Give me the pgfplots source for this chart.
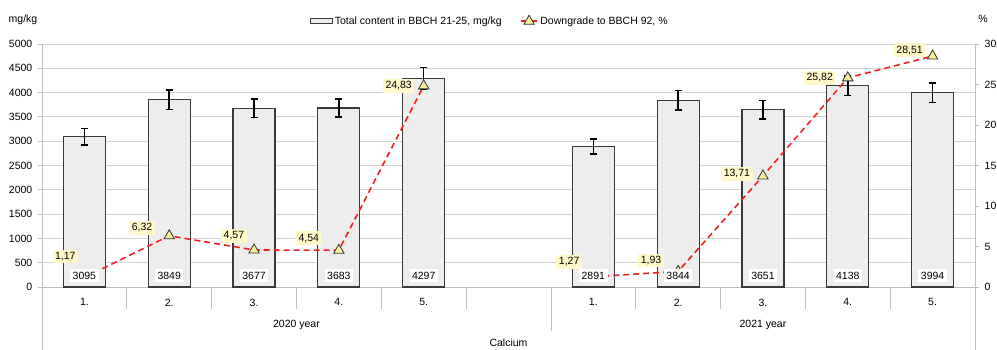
\documentclass[border=0pt]{standalone}
\usepackage{pgfplots}
\pgfplotsset{compat=1.18}
\usepackage{pgfplotstable}
\usepackage{fontspec}
\setmainfont{Liberation Sans}
\definecolor{barfill}{HTML}{EDEDED}
\definecolor{barline}{HTML}{3A3A3A}
\definecolor{gridc}{HTML}{D4D4D4}
\definecolor{axc}{HTML}{BFBFBF}
\definecolor{lbl}{HTML}{FFF8C8}
\definecolor{mk}{HTML}{F7EE9A}
\definecolor{lred}{HTML}{F02020}
\pgfplotsset{barlegend/.style={legend image code/.code={\draw[fill=barfill,draw=barline,line width=0.8pt] (0pt,-2.5pt) rectangle (22pt,2.5pt);}}}

\pgfplotstableread{
x val err
0 3095 170
1 3849 200
2 3677 190
3 3683 190
4 4297 220
6 2891 160
7 3844 200
8 3651 190
9 4138 200
10 3994 200
}\bars

\pgfplotstableread{
x p lab dx dy
0 1.17 1,17 -6 21
1 6.32 6,32 -14 8
2 4.57 4,57 -7 14
3 4.54 4,54 -17 12
4 24.83 24,83 -9 0
5 nan {} 0 0
6 1.27 1,27 -11 15
7 1.93 1,93 -14 11
8 13.71 13,71 -10 2
9 25.82 25,82 -12 0
10 28.51 28,51 -7 6
}\pct

\begin{document}
\fontsize{10.5}{12}\selectfont
\begin{tikzpicture}
\useasboundingbox (-42pt,-63pt) rectangle (955pt,287pt);
\begin{axis}[
  at={(0,0)}, anchor=south west,
  scale only axis, width=933pt, height=243pt,
  xmin=-0.5, xmax=10.5, ymin=0, ymax=5000,
  clip=false,
  axis x line*=bottom, axis y line*=left,
  axis line style={axc, line width=0.8pt},
  xtick={0,1,2,3,4,6,7,8,9,10},
  xticklabels={1.,2.,3.,4.,5.,1.,2.,3.,4.,5.},
  x tick style={draw=none},
  xticklabel style={yshift=-4pt},
  ytick={0,500,...,5000},
  y tick style={draw=axc, line width=0.8pt},
  tick align=outside, major tick length=4pt,
  ymajorgrids, grid style={gridc, line width=0.8pt},
  yticklabel style={xshift=-2pt},
  /pgf/number format/assume math mode=true,
  /pgf/number format/1000 sep={},
  ticklabel style={font=\fontsize{10.5}{12}\selectfont},
]
\addplot[ybar, bar width=42pt, fill=barfill, draw=barline, line width=1.1pt,
  error bars/.cd, y dir=both, y explicit,
  error bar style={black, line width=1.6pt},
  error mark options={rotate=90, mark size=3.5pt, line width=1.6pt, black}]
  table[x=x, y=val, y error=err] {\bars};
\pgfplotsinvokeforeach{0.5,1.5,2.5,3.5,4.5,6.5,7.5,8.5,9.5}{
  \draw[axc, line width=0.8pt] (axis cs:#1,0) -- ++(0pt,-22pt);
}
\draw[axc, line width=0.8pt] (axis cs:5.5,0) -- ++(0pt,-44pt);
\draw[axc, line width=0.8pt] (rel axis cs:0,0) -- ++(0pt,-63pt);
\draw[axc, line width=0.8pt] (rel axis cs:1,0) -- ++(0pt,-63pt);
\node at (axis cs:2.5,0) [yshift=-38pt] {2020 year};
\node at (axis cs:8,0) [yshift=-38pt] {2021 year};
\node at (axis cs:5,0) [yshift=-56pt] {Calcium};
\node at (rel axis cs:0,1) [xshift=-19pt, yshift=24pt] {mg/kg};
\node at (rel axis cs:1,1) [xshift=8pt, yshift=25pt] {\%};
\end{axis}
\begin{axis}[
  at={(0,0)}, anchor=south west,
  scale only axis, width=933pt, height=243pt,
  xmin=-0.5, xmax=10.5, ymin=0, ymax=30,
  axis x line=none, axis y line*=right,
  axis line style={axc, line width=0.8pt},
  ytick={0,5,...,30},
  y tick style={draw=axc, line width=0.8pt},
  tick align=outside, major tick length=4pt,
  yticklabel style={xshift=2pt},
  /pgf/number format/assume math mode=true,
  ticklabel style={font=\fontsize{10.5}{12}\selectfont},
  unbounded coords=jump,
  legend style={at={(0.48,1)}, anchor=south, yshift=14pt, draw=none, fill=none,
    legend columns=2, font=\fontsize{10.5}{12}\selectfont,
    /tikz/every even column/.append style={column sep=16pt}},
]
\addlegendimage{barlegend}
\addlegendentry{Total content in BBCH 21-25, mg/kg}
\addplot[lred, line width=1.6pt, dash pattern=on 6pt off 4pt,
  mark=triangle*, mark size=6pt,
  mark options={solid, fill=mk, draw=black!80, line width=0.8pt},
  nodes near coords, point meta=explicit symbolic,
  visualization depends on={\thisrow{dx} \as \dx},
  visualization depends on={\thisrow{dy} \as \dy},
  every node near coord/.append style={anchor=east, fill=lbl, inner sep=2.5pt,
    text=black, xshift=\dx pt, yshift=\dy pt, font=\fontsize{10.5}{12}\selectfont}]
  table[x=x, y=p, meta=lab] {\pct};
\addlegendentry{Downgrade to BBCH 92, \%}
\addplot[forget plot, draw=none, mark=none,
  nodes near coords, point meta=explicit symbolic,
  every node near coord/.append style={anchor=center, fill=white, inner sep=2.5pt,
    text=black, font=\fontsize{10.5}{12}\selectfont}]
  table[x=x, y expr=1.4, meta=val] {\bars};
\end{axis}
\end{tikzpicture}
\end{document}
